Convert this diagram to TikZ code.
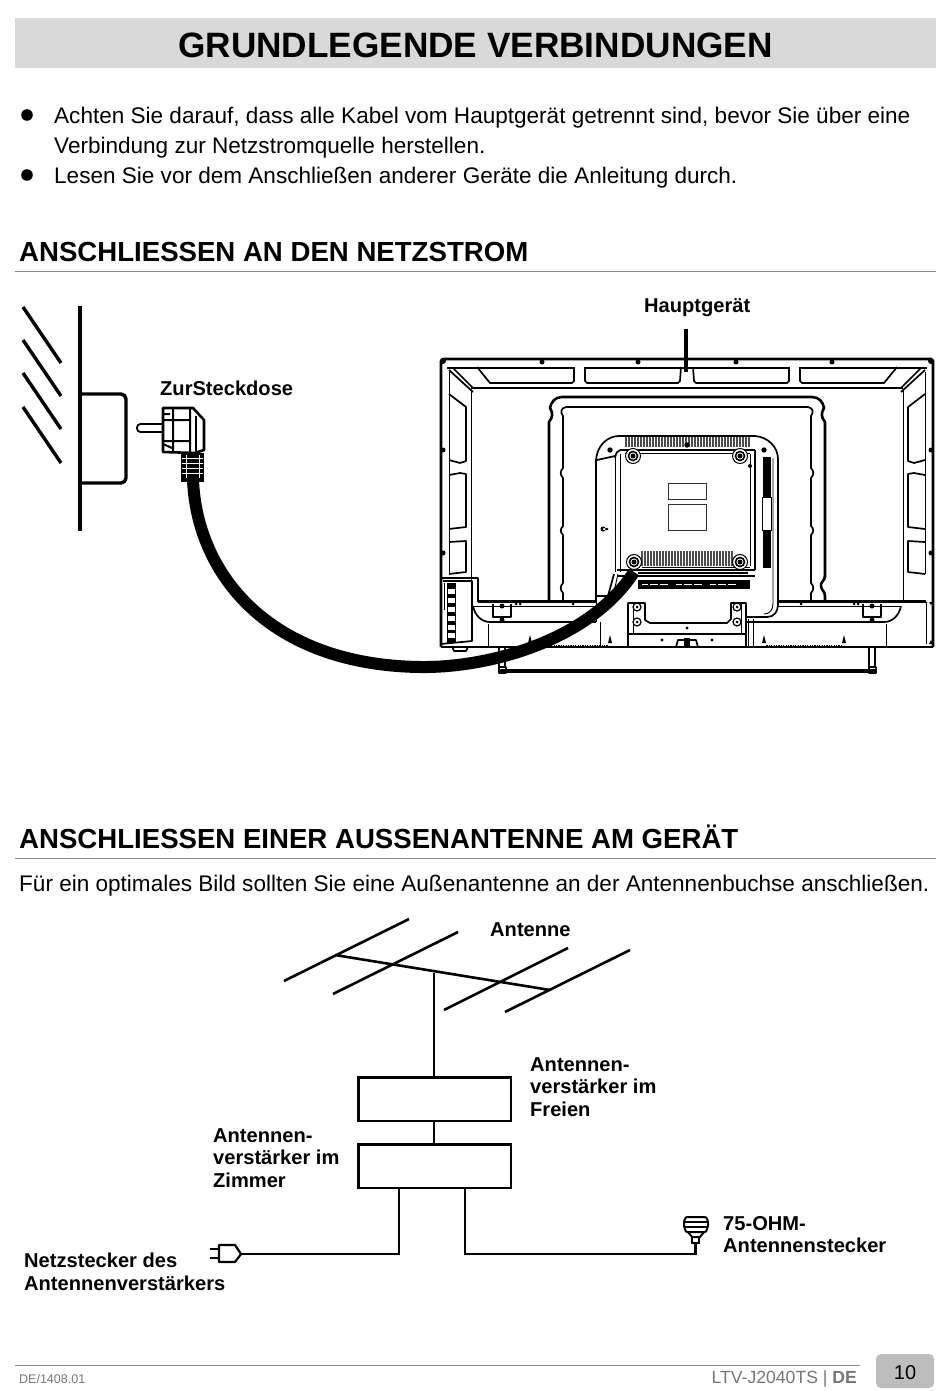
\documentclass[tikz,border=0pt]{standalone}
\usepackage{fontspec}
\setmainfont{Liberation Sans}
\usetikzlibrary{calc}
\definecolor{band}{HTML}{D9D9D9}
\definecolor{rulegray}{HTML}{8C8C8C}
\definecolor{foot}{HTML}{777777}
\definecolor{tabgray}{HTML}{BDBDBD}
\tikzset{
  title/.style={anchor=base,inner sep=0pt,font=\bfseries\fontsize{35.2}{40}\selectfont},
  heading/.style={anchor=base west,inner sep=0pt,font=\bfseries\fontsize{27.6}{32}\selectfont},
  body/.style={anchor=base west,inner sep=0pt,font=\fontsize{22.55}{28}\selectfont},
  lab/.style={anchor=base west,inner sep=0pt,font=\bfseries\fontsize{20.1}{22.7}\selectfont,align=left},
  unit/.style={draw,line width=2.6pt,minimum width=152.5pt,minimum height=43.5pt,inner sep=0pt},
  wire/.style={line width=2.6pt},
  tv/.style={line width=1.7pt,line join=round},
  tvthin/.style={line width=.9pt,line join=round},
  tvthick/.style={line width=2.6pt,line join=round},
  wallline/.style={line width=3.4pt},
}
\newcommand{\tvhalf}{%
  % top panels
  \draw[tv] (477,367) -- (490,383) -- (572,383) -- (574,381) -- (574,367);
  \draw[tv] (585,367) -- (585,381) -- (587,383) -- (678,383) -- (680,381) -- (681,367);
  \draw[tv] (447,368) -- (574,368) (585,368) -- (687,368);
  \draw[tv] (471,388) -- (687,388);
  % corner
  \draw[tv] (449,370) -- (473,392) (453,368) -- (473,388);
  \draw[tvthin] (449,372) -- (449,574);
  \draw[tvthin] (471,390) -- (471,600);
  % left panels
  \draw[tv] (449,394) -- (466,407) -- (466,461) -- (460,463) -- (449,460);
  \draw[tv] (449,475) -- (460,473) -- (466,474) -- (466,527) -- (449,529);
  \draw[tv] (449,542) -- (466,541) -- (466,572) -- (449,574);
  % rim dots
  \fill (542,362) circle (2.5) (638,362) circle (2.5) (443,450) circle (2.5) (443,553) circle (2.5) (443,361) circle (3);
  % frame
  \draw[tvthick] (441,647) -- (441,361) -- (443,359) -- (687,359);
  \draw[tvthick] (441,647) -- (687,647);
  % inner frame outer line
  \draw[tvthick] (549,602) -- (549,422) .. controls (553,417) and (553,413) .. (550,408) .. controls (551,402) and (555,397) .. (562,397) -- (687,397);
  % inner frame inner line, three notches
  \draw[tv] (687,407) -- (566,407) .. controls (561,408) and (560,412) .. (563,416) -- (563,468)
     .. controls (560,471) and (560,475) .. (563,478) -- (563,526)
     .. controls (560,529) and (560,532) .. (563,535) -- (563,583)
     .. controls (560,586) and (560,590) .. (563,593) -- (563,602);
  % lower band
  \draw[tvthick] (478,601.5) -- (596,601.5);
  \draw[tvthin] (473,606) -- (596,606);
  \draw[tv] (473,606) .. controls (475,616) and (482,622) .. (490,622);
  \draw[tvthick] (490,622) -- (596,622);
  \draw[tvthin] (488,624) -- (488,646);
  % bracket in band
  \draw[tv] (493,604) -- (493,617) -- (511,617) -- (511,604);
  \fill (502,606) circle (2.5) (502,620) circle (2.5);
  \fill (516,604) circle (1.5) (520,604) circle (1.5) (573,604) circle (1.5);
  % bottom lugs
  \fill (528,643) -- (530,635) -- (532,643) -- cycle (608,643) -- (610,635) -- (612,643) -- cycle;
  \draw[line width=2pt,dash pattern=on 1.2pt off 1.2pt] (532,645.5) -- (608,645.5);
}
\begin{document}
\begin{tikzpicture}[x=1pt,y=-1pt]
\useasboundingbox (0,0) rectangle (950,1391);
\fill[white] (0,0) rectangle (950,1391);
% header
\fill[band] (15,18) rectangle (936,68);
\node[title] (t) at (475.5,58) {GRUNDLEGENDE VERBINDUNGEN};
\fill (27,115) circle (5.8) (27,175) circle (5.8);
\node[body] (b1) at (54,124) {Achten Sie darauf, dass alle Kabel vom Hauptgerät getrennt sind, bevor Sie über eine};
\node[body] (b2) at (54,154) {Verbindung zur Netzstromquelle herstellen.};
\node[body] (b3) at (54,184) {Lesen Sie vor dem Anschließen anderer Geräte die Anleitung durch.};
\node[heading] (h1) at (19,261) {ANSCHLIESSEN AN DEN NETZSTROM};
\draw[rulegray,line width=1pt] (15,271.5) -- (936,271.5);
\node[lab] (hg) at (644,312) {Hauptgerät};
\node[lab] (zs) at (160,395) {ZurSteckdose};
% wall
\foreach \yy in {307,340,373,407} \draw[wallline] (23,\yy) -- (61,\yy+56);
\draw[line width=4.5pt] (80,306) -- (80,531);
\draw[line width=3.4pt,rounded corners=5pt] (80,394) -- (126,394) -- (126,483) -- (80,483);
% plug
\draw[line width=1.8pt,rounded corners=3.5pt] (162,424) -- (137,424) -- (137,432) -- (162,432);
\draw[line width=2.6pt,line join=round] (163,408) -- (193,408) -- (204,420) -- (204,450) -- (195,453) -- (163,452) -- cycle;
\draw[line width=2pt] (173,408) -- (173,452) (190,409) -- (190,452) (163,420) -- (190,420) (163,441) -- (190,441) (170,414) -- (163,414) (163,444) -- (172,448);
\draw[line width=1.2pt] (196,416) -- (196,452);
\fill (181,453) rectangle (204,482);
\foreach \yy in {458,463,468,473} \draw[white,line width=.7pt] (182,\yy) -- (203,\yy);
\draw[white,line width=.6pt] (186,455) -- (186,478) (199,455) -- (199,478);
% TV, both halves
\tvhalf
\begin{scope}[xshift=1374pt,xscale=-1]
\tvhalf
\end{scope}
\draw[line width=4pt] (686,329) -- (686,372);
% right side: outer line of the inner frame steps in low down
\fill[white] (823,577) rectangle (827,596);
\draw[tvthick] (825,576) .. controls (825,581) and (820,582) .. (821,586) .. controls (821,590) and (825,591) .. (825,596);
% lower band, parts that are not mirrored
\draw[tvthin] (596,597) -- (596,622) (600,622) -- (600,646);
\draw[tvthin] (748,619) -- (748,646) (753,619) -- (753,646);
\draw[tvthick] (747,622) -- (778,622);
\draw[tvthick] (896,601.5) -- (926,601.5);
% central block
\draw[tv] (596,600) -- (596,460) .. controls (597,446) and (607,436) .. (619,436) -- (755,436) .. controls (768,437) and (778,447) .. (778,459) -- (778,603) .. controls (778,612) and (774,617) .. (767,617) -- (747,617);
\draw[tvthin] (773,458) -- (773,603) .. controls (773,610) and (770,614) .. (764,614);
\draw[tv] (597,460) -- (615,456);
\draw[tvthin] (615,458) -- (615,572) (620,454) -- (620,572);
\draw[tv] (620,450) .. controls (617,451) and (616,453) .. (615,458);
\draw[tv] (620,450) -- (755,450) (617,570) -- (755,570) (755,450) -- (755,570);
\draw[tvthin] (750,454) -- (750,566) (625,453) -- (750,453) (642,567) -- (750,567);
% vents
\foreach \xx in {626,629,...,749} \draw[line width=1.2pt,black!70] (\xx,437) -- (\xx,447);
\foreach \xx in {642,645,...,733} \draw[line width=1.2pt,black!70] (\xx,551) -- (\xx,566);
% screws
\foreach \xx/\yy in {633/456,740/456,634/562,740/562} {
  \fill[white] (\xx,\yy) circle (7.5);
  \draw[line width=1pt] (\xx,\yy) circle (7.5);
  \draw[line width=1.6pt] (\xx,\yy) circle (4.5);
  \fill (\xx,\yy) circle (2.5);
}
\fill (610,450) circle (2.7) (687,445) circle (2.7) (764,450) circle (2.7) (750,466) circle (2);
\fill (603,529) circle (2.5) (603,528) rectangle (608,530);
% plate windows
\draw[line width=1pt,black!80] (668,483) rectangle (706,499);
\draw[line width=1pt,black!80] (668,504) rectangle (706,530);
% black strip
\fill (763,457) rectangle (771,497);
\fill (763,530) rectangle (771,568);
\draw[tvthin] (762,497) rectangle (771,530);
% black connector row
\fill (638,580) rectangle (750,589);
\draw[white,line width=.6pt,dash pattern=on 6pt off 2pt on 8pt off 2pt on 8pt off 8pt] (642,584.5) -- (740,584.5);
\draw[tv] (617,576) -- (755,576) (638,573) -- (748,573);
\draw[tv] (614,574) -- (608,596) -- (596,596);
\draw[tvthin] (618,574) -- (613,596);
% bottom centre bracket
\draw[tv] (628,647) -- (628,603) -- (645,603) -- (645,620) -- (650,623) -- (727,623) -- (731,619) -- (731,603) -- (746,603) -- (746,647);
\draw[tv] (628,634) -- (746,634);
\draw[tvthin] (741,603) -- (741,634) (633,603) -- (633,634);
\foreach \xx/\yy in {637/606,637/621,737/606,737/621} {\draw[line width=1.2pt] (\xx,\yy+1) circle (4); \fill (\xx,\yy+1) circle (1.5);}
\fill (662,640) circle (1.7) (712,640) circle (1.7) (687,628) circle (1.7);
\draw[tv] (676,647) -- (678,640) -- (696,640) -- (698,647);
\fill (684,638) rectangle (690,647);
% left side box
\draw[tv] (441,578) -- (478,578) -- (478,602);
\draw[tv] (443,581) -- (472,581) -- (472,641) -- (441,644);
\fill (447,583) rectangle (456,643);
\foreach \yy in {592,601,610,619,628,636} \fill[white] (448,\yy-3) rectangle (455,\yy+2);
\draw[tv] (452,646) -- (454,651) -- (466,651) -- (468,647);
% right side verticals
\draw[tvthin] (926,602) -- (926,644);
\fill (931,605) -- (929,602) -- (933,602) -- cycle (931,640) -- (929,644) -- (933,644) -- cycle;
\fill (444,583) rectangle (445,610);
% stand
\draw[tv] (499,648) -- (499,668) (505,648) -- (505,668);
\draw[tv] (869,648) -- (869,668) (875,648) -- (875,668);
\draw[line width=3.6pt] (499,671) -- (876,671);
\draw[tv] (499,667) rectangle (506,673) (869,667) rectangle (876,673);
% cable
\draw[line width=12pt] (193,480) .. controls (197,575) and (270,665) .. (420,667) .. controls (490,668) and (590,640) .. (634,572);
% antenna
\coordinate (a1s) at (284,981); \coordinate (a1e) at (409,919);
\coordinate (a2s) at (333,994); \coordinate (a2e) at (458,932);
\coordinate (a3s) at (444,1010); \coordinate (a3e) at (568,948);
\coordinate (a4s) at (505,1012); \coordinate (a4e) at (630,950);
\coordinate (bms) at (335,955); \coordinate (bme) at (550,990);
\coordinate (mast) at (434,973);
\draw[wire] (a1s) -- (a1e) (a2s) -- (a2e) (a3s) -- (a3e) (a4s) -- (a4e) (bms) -- (bme);
\node[unit,anchor=north west] (amp1) at (357,1076) {};
\node[unit,anchor=north west] (amp2) at (357,1143) {};
\draw[wire] (mast) -- (amp1.north -| mast);
\draw[wire] (amp1.south -| mast) -- (amp2.north -| mast);
\coordinate (jl) at (399,1254); \coordinate (jr) at (465,1254);
% mains plug
\coordinate (ptip) at (241,1254);
\draw[line width=2.2pt,line join=round] (219,1245) -- (235,1245) -- (ptip) -- (235,1262) -- (219,1262) -- cycle;
\draw[line width=2.6pt] (210,1249) -- (219,1249) (210,1258) -- (219,1258);
\draw[wire] (amp2.south -| jl) -- (jl) -- (ptip);
% coax connector
\coordinate (cx) at (695.5,1243);
\draw[line width=2pt,line join=round,rounded corners=1pt] (686,1217) -- (706,1217) -- (708,1221) -- (708,1226) -- (706,1232) -- (686,1232) -- (684,1226) -- (684,1221) -- cycle;
\draw[line width=2pt] (684,1222) -- (708,1222) (684,1227) -- (708,1227);
\draw[line width=2pt,line join=round] (688,1232) -- (692,1237) -- (700,1237) -- (704,1232);
\draw[line width=2pt] (692,1237) rectangle (699,1243);
\draw[wire] (amp2.south -| jr) -- (jr) -- (jr -| cx) -- (cx);
% lower labels
\node[heading] (h2) at (19,848) {ANSCHLIESSEN EINER AUSSENANTENNE AM GERÄT};
\draw[rulegray,line width=1pt] (15,858.5) -- (936,858.5);
\node[body] (b4) at (19,891) {Für ein optimales Bild sollten Sie eine Außenantenne an der Antennenbuchse anschließen.};
\node[lab] (l1) at (490,936) {Antenne};
\node[lab,anchor=north west] (l2) at (530,1057) {Antennen-\\verstärker im\\Freien};
\node[lab,anchor=north west] (l3) at (213,1128) {Antennen-\\verstärker im\\Zimmer};
\node[lab,anchor=north west] (l4) at (723,1216) {75-OHM-\\Antennenstecker};
\node[lab,anchor=north west] (l5) at (24,1253) {Netzstecker des\\Antennenverstärkers};
% footer
\draw[rulegray,line width=1pt] (15,1365) -- (860,1365);
\node[anchor=base west,inner sep=0pt,text=foot,font=\fontsize{12.5}{14}\selectfont] (f1) at (19,1383) {DE/1408.01};
\node[anchor=base east,inner sep=0pt,text=foot,font=\fontsize{17.6}{20}\selectfont] (f2) at (857,1383) {LTV-J2040TS | \textbf{DE}};
\fill[tabgray,rounded corners=5pt] (876,1354) rectangle (934,1388);
\node[anchor=base,inner sep=0pt,font=\fontsize{20}{22}\selectfont] (f3) at (905,1379) {10};
\end{tikzpicture}
\end{document}
